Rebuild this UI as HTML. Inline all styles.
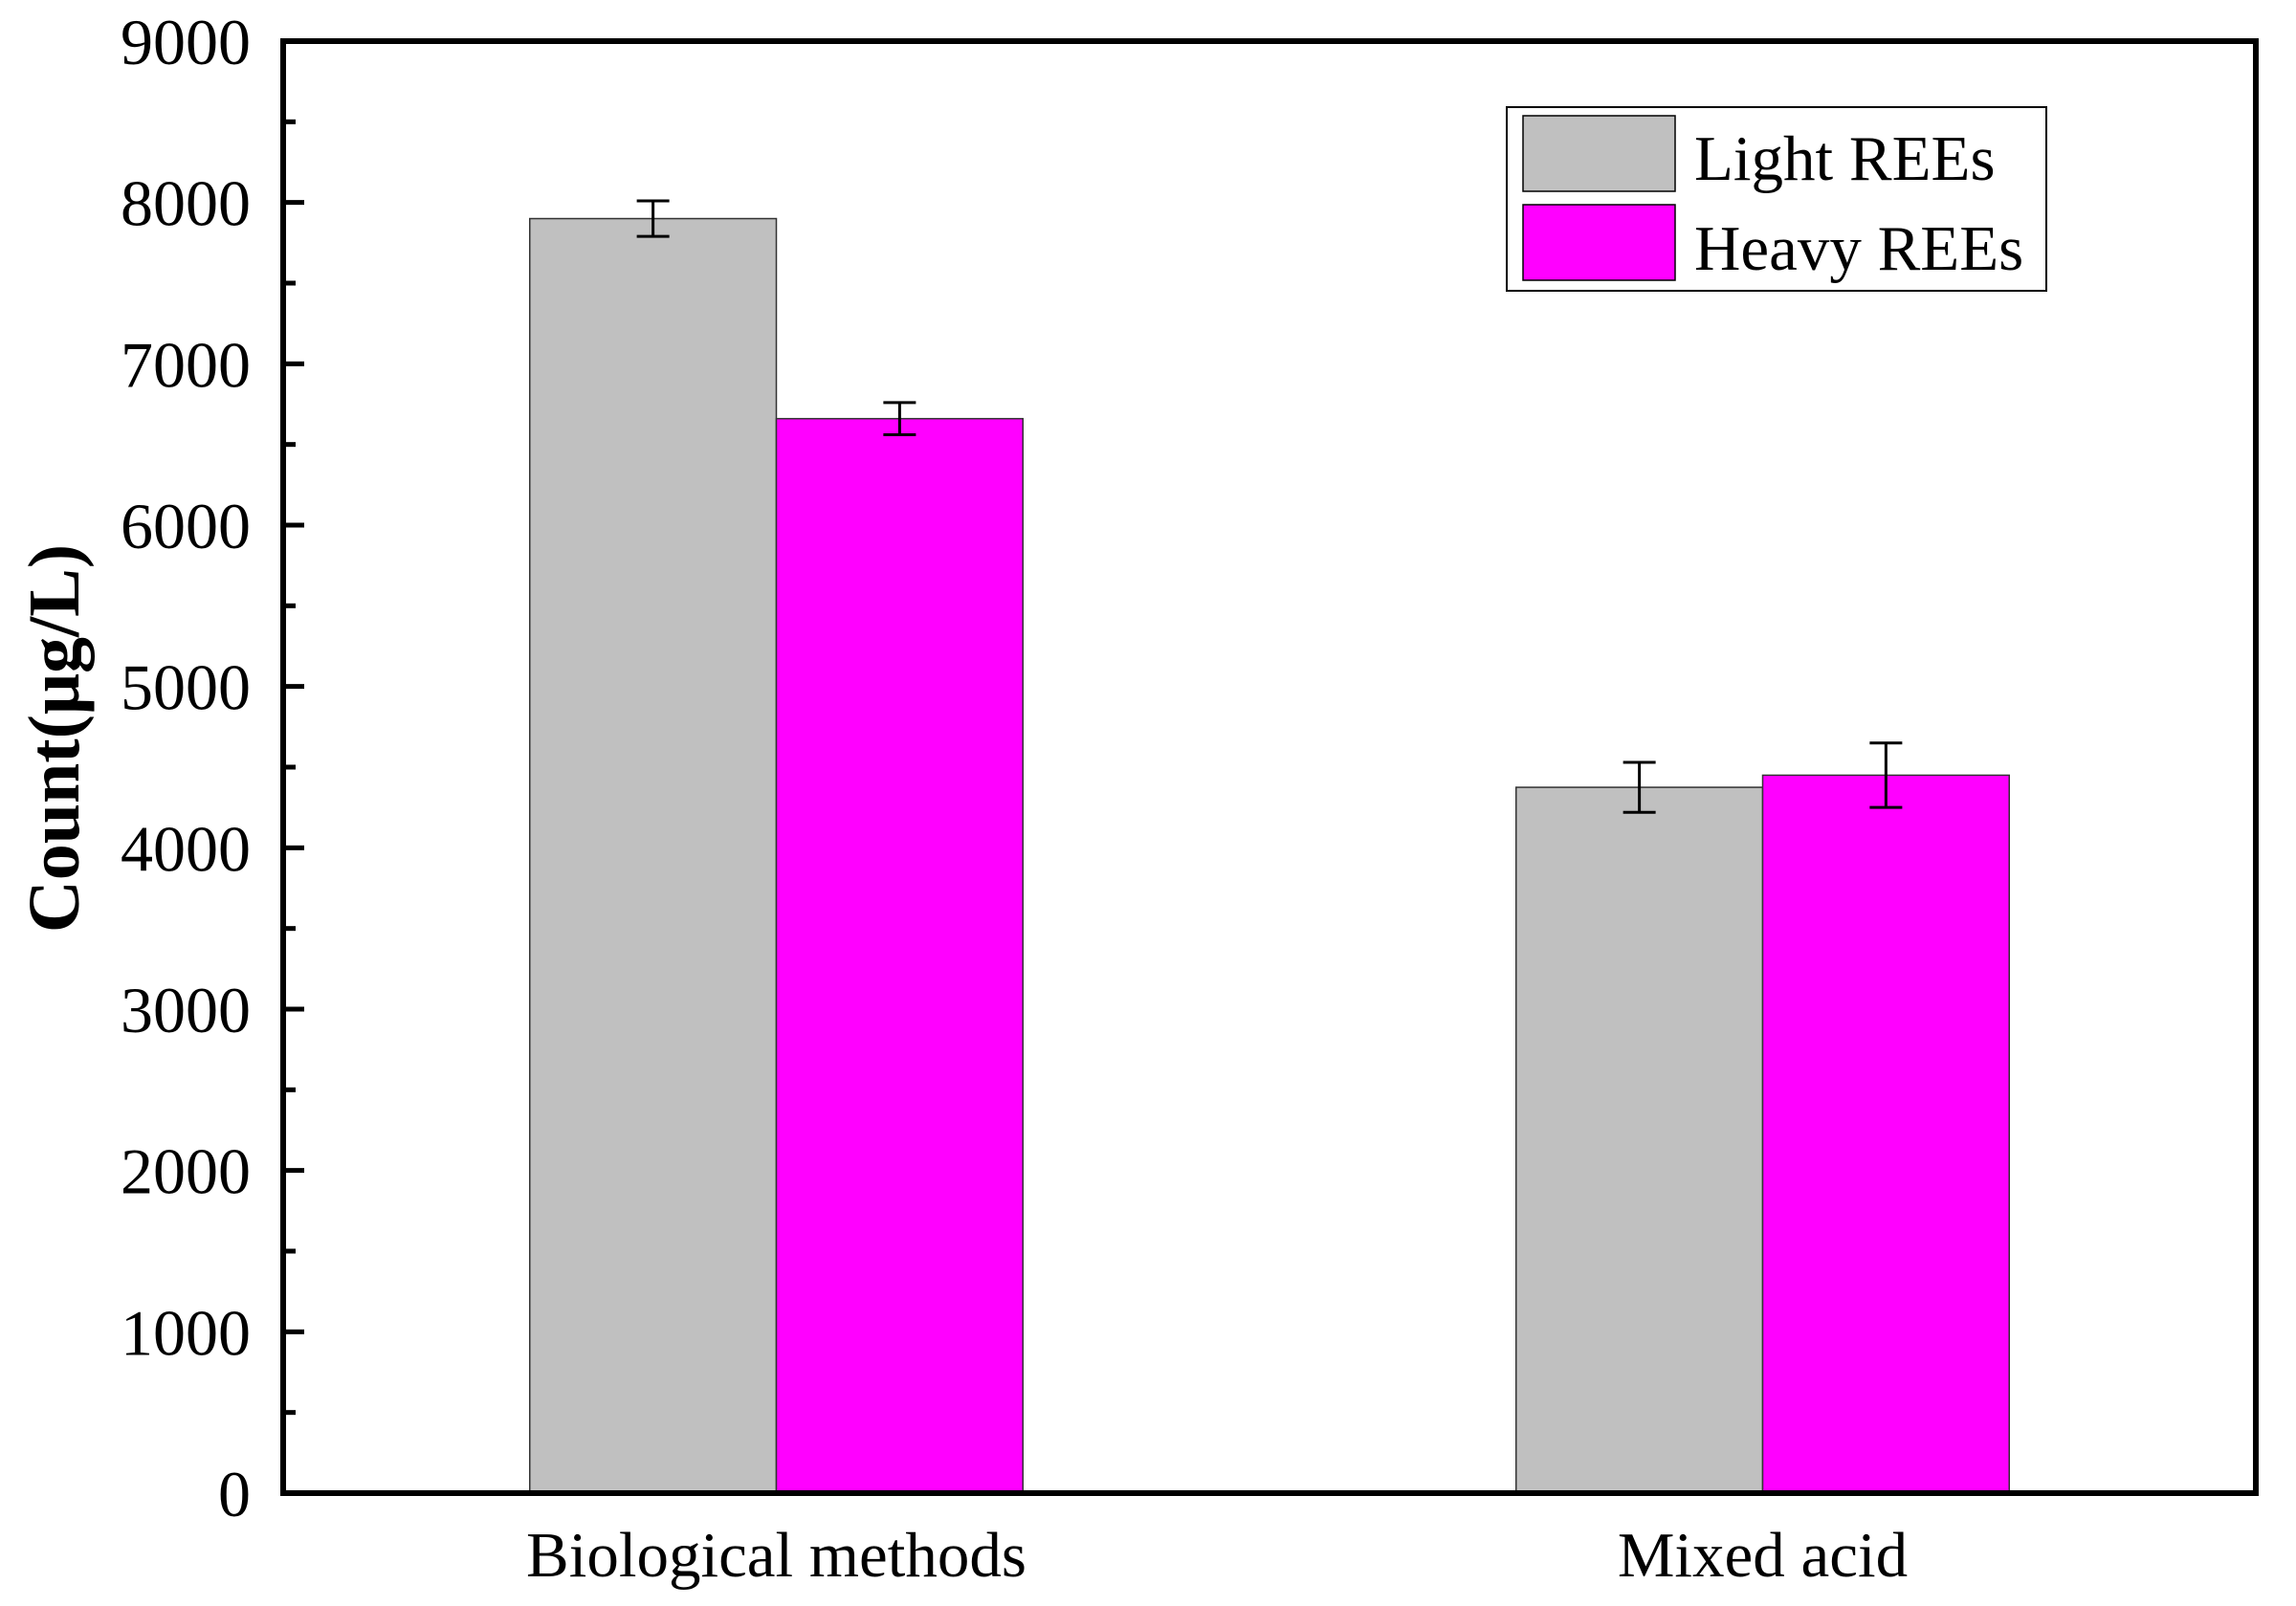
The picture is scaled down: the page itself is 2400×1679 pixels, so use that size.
<!DOCTYPE html>
<html><head><meta charset="utf-8"><style>
html,body{margin:0;padding:0;background:#fff;}
svg{display:block;font-family:"Liberation Serif",serif;}
</style></head><body>
<svg id="chart" xmlns="http://www.w3.org/2000/svg" width="2400" height="1679" viewBox="0 0 2400 1679">
<rect x="0" y="0" width="2400" height="1679" fill="#fff"/>
<g id="bars"></g>
<g id="axes"></g>
<text transform="translate(82,772) rotate(-90)" text-anchor="middle" font-size="76" font-weight="bold">Count(μg/L)</text>
<g>
<rect x="1575" y="112" width="564" height="192" fill="#fff" stroke="#000" stroke-width="2"/>
<rect x="1592" y="121" width="159" height="79" fill="#c0c0c0" stroke="#000" stroke-width="1.5"/>
<text x="1771" y="188" font-size="67">Light REEs</text>
<rect x="1592" y="214" width="159" height="79" fill="#ff00ff" stroke="#000" stroke-width="1.5"/>
<text x="1771" y="282" font-size="67">Heavy REEs</text>
</g>
</svg>
<script>
const categories = ["Biological methods", "Mixed acid"];
const lightValues = [7900, 4375];
const heavyValues = [6660, 4450];
const lightErrors = [110, 155];
const heavyErrors = [100, 200];
const yTicks = [0, 1000, 2000, 3000, 4000, 5000, 6000, 7000, 8000, 9000];

const NS = "http://www.w3.org/2000/svg";
const L = 296, R = 2358, T = 43, B = 1561;
const yMax = 9000;
const W = R - L;
function y(v){ return B - (v / yMax) * (B - T); }
function catX(i){ return L + W * (0.25 + 0.5 * i); }
const bw = W / 8;
function mk(tag, attrs, parent){
  const e = document.createElementNS(NS, tag);
  for (const k in attrs) e.setAttribute(k, attrs[k]);
  parent.appendChild(e);
  return e;
}
const bars = document.getElementById("bars");
const axes = document.getElementById("axes");
const series = [
  {vals: lightValues, errs: lightErrors, fill: "#c0c0c0", off: -1, name: "light"},
  {vals: heavyValues, errs: heavyErrors, fill: "#ff00ff", off: 0, name: "heavy"}
];
series.forEach(s => {
  s.vals.forEach((v, i) => {
    const x0 = catX(i) + s.off * bw;
    const r = mk("rect", {x: x0, y: y(v), width: bw, height: B - y(v), fill: s.fill, stroke: "#333", "stroke-width": 1.5}, bars);
    
    
    const cx = x0 + bw / 2, e = s.errs[i];
    const g = mk("g", {stroke: "#000", "stroke-width": 3}, bars);
    
    
    mk("line", {x1: cx, x2: cx, y1: y(v + e), y2: y(v - e)}, g);
    mk("line", {x1: cx - 17, x2: cx + 17, y1: y(v + e), y2: y(v + e)}, g);
    mk("line", {x1: cx - 17, x2: cx + 17, y1: y(v - e), y2: y(v - e)}, g);
  });
});
const f = mk("rect", {x: L, y: T, width: W, height: B - T, fill: "none", stroke: "#000", "stroke-width": 6}, axes);


yTicks.forEach(t => {
  const tl = mk("line", {x1: L, x2: L + 22, y1: y(t), y2: y(t), stroke: "#000", "stroke-width": 5}, axes);
  
  
  const tx = mk("text", {x: 262, y: y(t) + 24, "text-anchor": "end", "font-size": 68}, axes);
  tx.textContent = t;
  
  
  if (t < yMax) {
    const m = mk("line", {x1: L, x2: L + 13, y1: y(t + 500), y2: y(t + 500), stroke: "#000", "stroke-width": 5}, axes);
    
    
  }
});
categories.forEach((c, i) => {
  const tx = mk("text", {x: catX(i), y: 1648, "text-anchor": "middle", "font-size": 67}, axes);
  tx.textContent = c;
  
  
});
</script>
</body></html>
